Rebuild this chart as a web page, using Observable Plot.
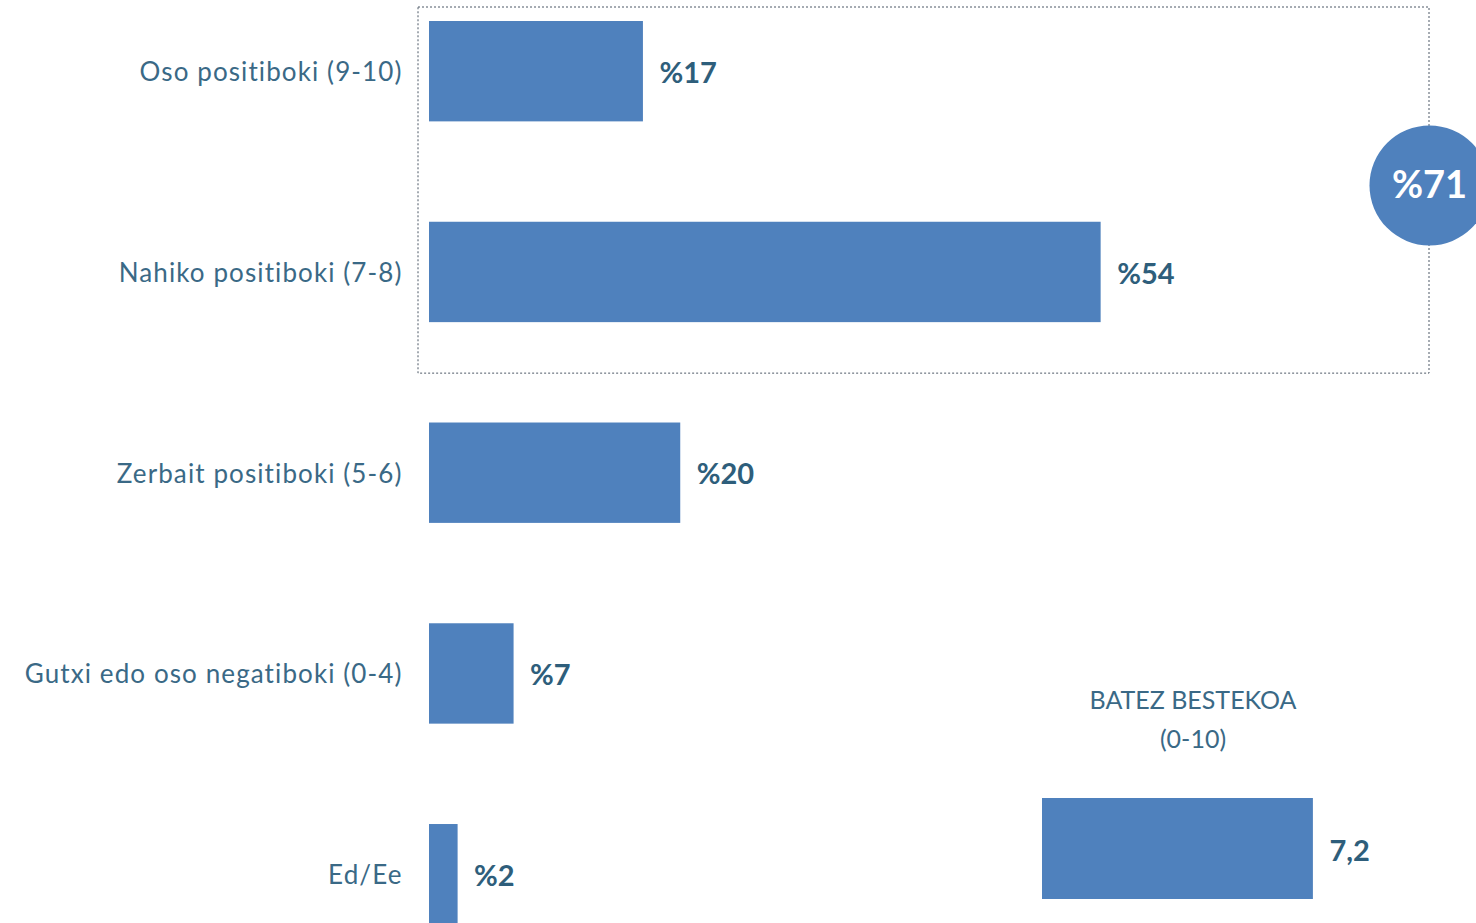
<!DOCTYPE html>
<html><head><meta charset="utf-8">
<script src="https://cdn.jsdelivr.net/npm/d3@7"></script>
<script src="https://cdn.jsdelivr.net/npm/@observablehq/plot@0.6"></script>
<style>
body{margin:0;background:#fff;}
#wrap{position:relative;width:1476px;height:923px;overflow:hidden;}
#wrap svg{position:absolute;left:0;top:0;}
#wrap svg g[aria-label="y-axis tick label"] text{letter-spacing:1.1px;}
</style></head><body><div id="wrap"></div>
<script>
const categories = ["Oso positiboki (9-10)", "Nahiko positiboki (7-8)", "Zerbait positiboki (5-6)", "Gutxi edo oso negatiboki (0-4)", "Ed/Ee"];
const values = [17.2, 54.0, 20.2, 6.8, 2.3];
const groupCategories = categories.slice(0, 2);
const meanTitle = "BATEZ BESTEKOA\n(0-10)";
const meanValue = 7.2;

const barColor = "#4F81BD";
const labelColor = "#3A6986";
const valueColor = "#2E5E7B";
const font = "Lato, 'Open Sans', sans-serif";

const data = categories.map((c, i) => ({category: c, value: values[i]}));
const groupTotal = d3.sum(groupCategories, c => values[categories.indexOf(c)]);
const xMax = 80.4;

const box = (index, {x, y}) => {
  const step = y(groupCategories[1]) - y(groupCategories[0]);
  const top = y(groupCategories[0]) - 14;
  const bottom = y(groupCategories[1]) + step * 0.5 + 51;
  const left = x(0) - 11;
  const right = x(xMax);
  return d3.create("svg:rect")
    .attr("x", left).attr("y", top)
    .attr("width", right - left).attr("height", bottom - top)
    .attr("fill", "none").attr("stroke", "#4d5866")
    .attr("stroke-width", 1).attr("stroke-dasharray", "2,2")
    .node();
};

const main = Plot.plot({
  width: 1476, height: 923,
  marginLeft: 429, marginTop: 0, marginBottom: 0, marginRight: 0,
  style: {fontFamily: font, background: "transparent"},
  x: {domain: [0, xMax], range: [429, 1429], axis: null},
  y: {domain: categories, range: [21, 924.4], paddingInner: 0.5, paddingOuter: 0, round: false, label: null},
  marks: [
    box,
    Plot.barX(data, {y: "category", x: "value", fill: barColor}),
    Plot.axisY({tickSize: 0, tickPadding: 27, fontSize: 26, fill: labelColor, label: null, dy: 1}),
    Plot.text(data, {y: "category", x: "value", text: d => "%" + Math.round(d.value), textAnchor: "start", dx: 16, dy: 2, fontSize: 29, fontWeight: "bold", fill: valueColor}),
    Plot.dot([groupTotal], {x: () => xMax, y: () => groupCategories[1], dy: -87, r: 60, fill: barColor}),
    Plot.text([groupTotal], {x: () => xMax, y: () => groupCategories[1], dy: -87, text: d => "%" + Math.round(d), fontSize: 38, fontWeight: "bold", fill: "white"})
  ]
});

const meanData = [{label: meanTitle, value: meanValue}];
const mean = Plot.plot({
  width: 1476, height: 923,
  margin: 0,
  style: {fontFamily: font, background: "transparent"},
  x: {domain: [0, 8], range: [1042, 1343], axis: null},
  y: {domain: ["mean"], range: [798, 899], padding: 0, round: false, axis: null},
  marks: [
    Plot.barX(meanData, {y: () => "mean", x: "value", fill: barColor}),
    Plot.text(meanData, {y: () => "mean", x: "value", text: d => d3.format(".1f")(d.value).replace(".", ","), textAnchor: "start", dx: 16, dy: 3, fontSize: 29, fontWeight: "bold", fill: valueColor}),
    Plot.text(meanData, {x: () => 4, y: () => "mean", text: "label", frameAnchor: "middle", dy: -133, lineHeight: 1.55, fontSize: 25, fill: labelColor})
  ]
});

document.getElementById("wrap").append(main, mean);
</script></body></html>
